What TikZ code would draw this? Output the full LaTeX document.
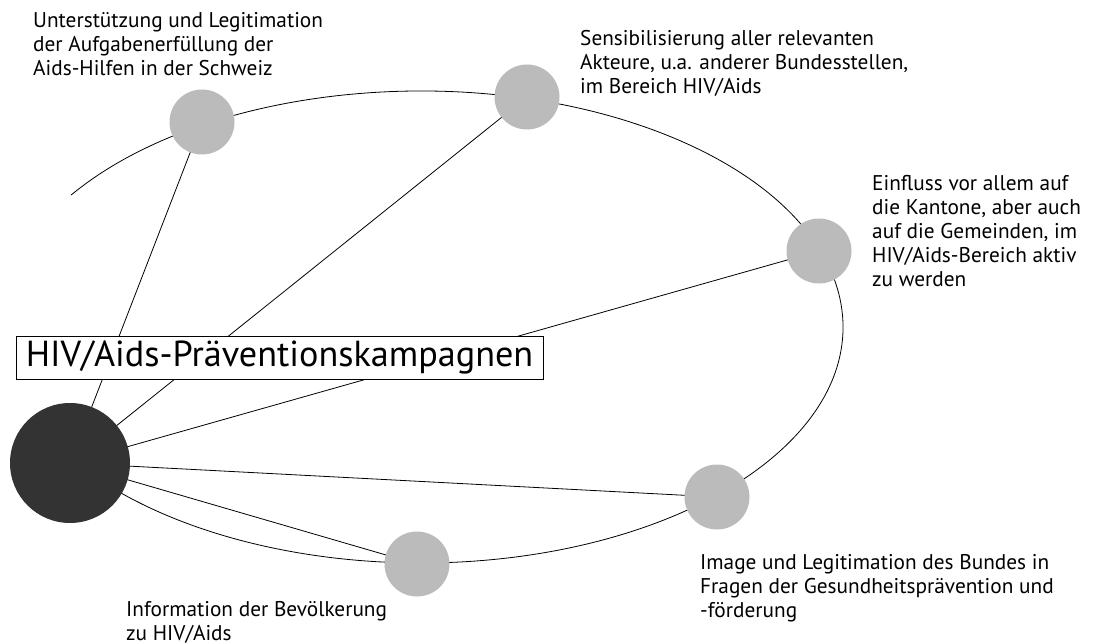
\documentclass[tikz,border=0pt]{standalone}
\usepackage{fontspec}
\setmainfont{PT Sans}
\usetikzlibrary{backgrounds}
\definecolor{gfill}{HTML}{BBBBBB}
\definecolor{dfill}{HTML}{333333}
\begin{document}
\begin{tikzpicture}[x=1pt,y=-1pt,
  gcirc/.style={circle,fill=gfill,minimum size=65pt,inner sep=0pt},
  dcirc/.style={circle,fill=dfill,minimum size=120pt,inner sep=0pt},
  conn/.style={line width=0.8pt,black},
  lbl/.style={anchor=north west,inner sep=0pt,align=left,font=\fontsize{21.3}{24}\selectfont},
  titlebox/.style={draw,line width=0.8pt,fill=white,minimum width=527pt,minimum height=43pt,inner sep=0pt,font=\fontsize{36.2}{40}\selectfont}]
\useasboundingbox (0,0) rectangle (1094,644);
\node[dcirc] (K) at (70,463) {};
\node[gcirc] (A) at (202,122) {};
\node[gcirc] (B) at (527,97) {};
\node[gcirc] (C) at (819,251) {};
\node[gcirc] (D) at (717,497) {};
\node[gcirc] (E) at (417,564) {};
\begin{pgfonlayer}{background}
\draw[conn] ([shift={(-146:422 and 236)}]421,327) arc[start angle=-146,end angle=140,x radius=422,y radius=236];
\draw[conn] (K.center) -- (A.center);
\draw[conn] (K.center) -- (B.center);
\draw[conn] (K.center) -- (C.center);
\draw[conn] (K.center) -- (D.center);
\draw[conn] (K.center) -- (E.center);
\end{pgfonlayer}
\node[titlebox] (T) at (279.5,357.5) {HIV/Aids-Präventionskampagnen};
\node[lbl] (LA) at (33,12) {Unterstützung und Legitimation\\der Aufgabenerfüllung der\\Aids-Hilfen in der Schweiz};
\node[lbl] (LB) at (580,30) {Sensibilisierung aller relevanten\\Akteure, u.a. anderer Bundesstellen,\\im Bereich HIV/Aids};
\node[lbl] (LC) at (872,175) {Einfluss vor allem auf\\die Kantone, aber auch\\auf die Gemeinden, im\\HIV/Aids-Bereich aktiv\\zu werden};
\node[lbl] (LD) at (700,554) {Image und Legitimation des Bundes in\\Fragen der Gesundheitsprävention und\\-förderung};
\node[lbl] (LE) at (126,601) {Information der Bevölkerung\\zu HIV/Aids};
\end{tikzpicture}
\end{document}
